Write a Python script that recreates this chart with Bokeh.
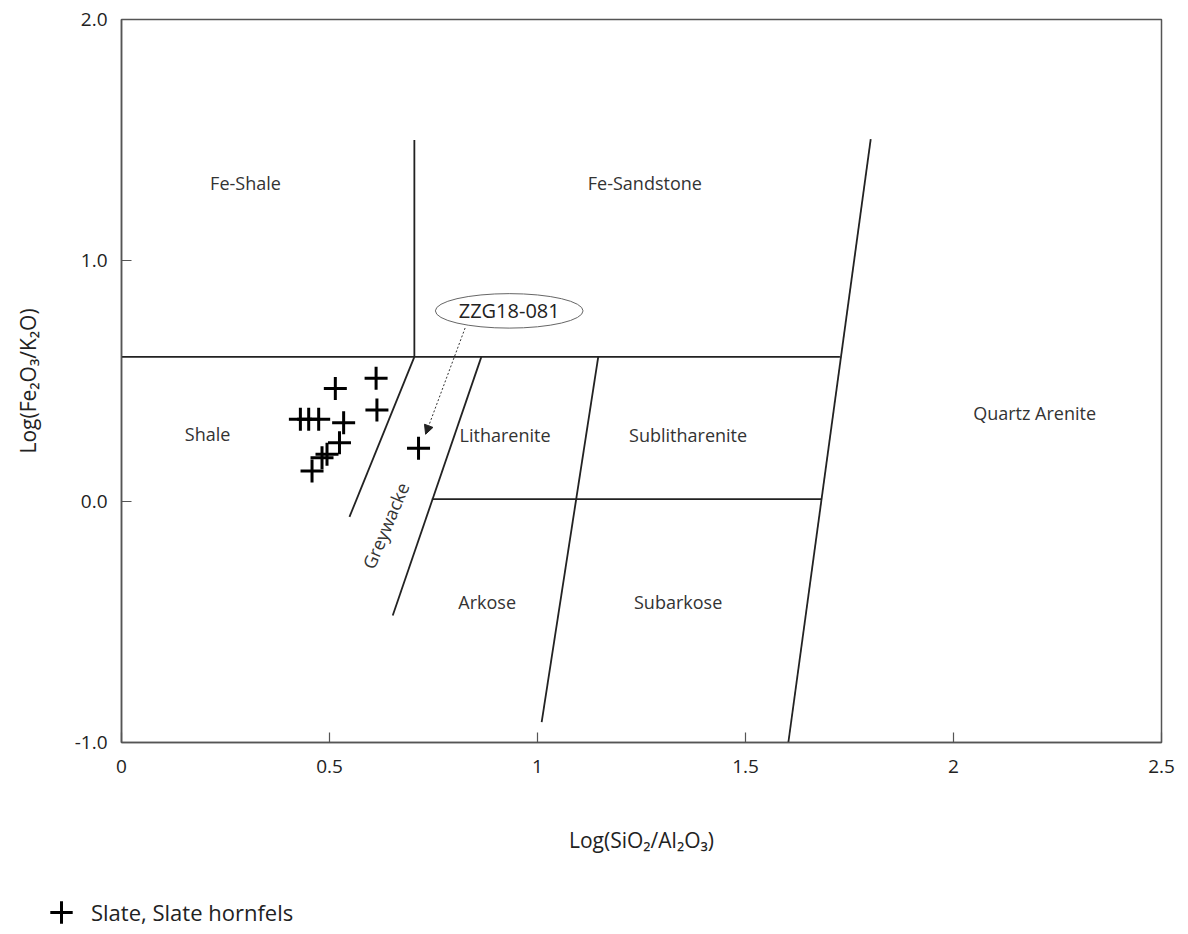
from bokeh.plotting import figure
from bokeh.models import Range1d, FixedTicker, Legend, LegendItem, Arrow, NormalHead
from bokeh.core.properties import value
from bokeh.embed import file_html
from bokeh.resources import INLINE

# ---- data ----
slate_x = [0.514, 0.612, 0.614, 0.430, 0.450, 0.474, 0.534, 0.524, 0.482, 0.494, 0.458, 0.714]
slate_y = [0.469, 0.511, 0.380, 0.341, 0.341, 0.341, 0.327, 0.244, 0.182, 0.196, 0.127, 0.221]
series_name = "Slate, Slate hornfels"

x_ticks = [0, 0.5, 1, 1.5, 2, 2.5]
x_tick_labels = ["0", "0.5", "1", "1.5", "2", "2.5"]
y_ticks = [-1, 0, 1, 2]
y_tick_labels = ["-1.0", "0.0", "1.0", "2.0"]

boundary_x0 = [0.0, 0.704, 1.603, 0.746, 1.010, 0.548, 0.652]
boundary_y0 = [0.6, 0.6, -1.0, 0.01, -0.915, -0.064, -0.473]
boundary_x1 = [1.727, 0.704, 1.801, 1.682, 1.146, 0.704, 0.865]
boundary_y1 = [0.6, 1.5, 1.504, 0.01, 0.6, 0.6, 0.6]

field_names = ["Fe-Shale", "Fe-Sandstone", "Shale", "Litharenite",
               "Sublitharenite", "Quartz Arenite", "Arkose", "Subarkose"]
field_x = [0.298, 1.258, 0.207, 0.922, 1.362, 2.195, 0.879, 1.338]
field_y = [1.32, 1.32, 0.28, 0.277, 0.277, 0.369, -0.418, -0.418]

greywacke_label = ["Greywacke"]
greywacke_x = [0.635]
greywacke_y = [-0.10]

sample_label = ["ZZG18-081"]
sample_label_x = [0.932]
sample_label_y = [0.791]
arrow_start = (0.826, 0.72)
arrow_end = (0.731, 0.279)

FONT = "Open Sans"

p = figure(width=1180, height=860, output_backend="svg", toolbar_location=None,
           x_range=Range1d(0, 2.5), y_range=Range1d(-1, 2),
           min_border_left=121, min_border_right=19, min_border_top=19,
           min_border_bottom=118)
p.grid.visible = False
p.outline_line_color = "#555555"
p.outline_line_width = 1.5
p.background_fill_color = "white"
p.border_fill_color = "white"

for ax in (p.xaxis[0], p.yaxis[0]):
    ax.axis_line_color = "#555555"
    ax.axis_line_width = 1.5
    ax.major_tick_line_color = "#555555"
    ax.major_tick_line_width = 1.2
    ax.major_tick_in = 10
    ax.major_tick_out = 0
    ax.minor_tick_line_color = None
    ax.major_label_text_font = FONT
    ax.major_label_text_font_size = "19px"
    ax.major_label_text_color = "#222222"
    ax.axis_label_text_font = FONT
    ax.axis_label_text_font_size = "21px"
    ax.axis_label_text_font_style = "normal"
    ax.axis_label_text_color = "#222222"

p.xaxis.ticker = FixedTicker(ticks=x_ticks)
p.xaxis.major_label_overrides = dict(zip(x_ticks, x_tick_labels))
p.xaxis.major_label_standoff = 17
p.xaxis.axis_label = "Log(SiO\u2082/Al\u2082O\u2083)"
p.xaxis.axis_label_standoff = 50

p.yaxis.ticker = FixedTicker(ticks=y_ticks)
p.yaxis.major_label_overrides = dict(zip(y_ticks, y_tick_labels))
p.yaxis.major_label_standoff = 14
p.yaxis.axis_label = "Log(Fe\u2082O\u2083/K\u2082O)"
p.yaxis.axis_label_standoff = 30

# boundary lines
p.segment(x0=boundary_x0, y0=boundary_y0, x1=boundary_x1, y1=boundary_y1,
          line_color="#222222", line_width=1.8)

# field labels
p.text(x=field_x, y=field_y, text=field_names, text_font=value(FONT),
       text_font_size="18px", text_color="#333333",
       text_align="center", text_baseline="middle")
p.text(x=greywacke_x, y=greywacke_y, text=greywacke_label, text_font=value(FONT),
       text_font_size="18px", text_color="#333333", angle=1.17,
       text_align="center", text_baseline="middle")

# sample callout
p.ellipse(x=sample_label_x, y=sample_label_y, width=0.355, height=0.143,
          fill_color="white", line_color="#666666", line_width=1)
p.text(x=sample_label_x, y=sample_label_y, text=sample_label, text_font=value(FONT),
       text_font_size="20px", text_color="#222222",
       text_align="center", text_baseline="middle")
p.add_layout(Arrow(x_start=arrow_start[0], y_start=arrow_start[1],
                   x_end=arrow_end[0], y_end=arrow_end[1],
                   line_color="#333333", line_width=1, line_dash="2 2",
                   end=NormalHead(size=9, fill_color="#222222", line_color="#222222",
                                  line_width=1)))

# samples
p.scatter(x=slate_x, y=slate_y, marker="cross", size=23,
          line_color="black", line_width=3)

# legend strip below the diagram (separate root, no axes, frame fills the strip)
pl = figure(width=1180, height=70, output_backend="svg", toolbar_location=None,
            x_range=Range1d(0, 1), y_range=Range1d(0, 1), min_border=0,
            x_axis_location=None, y_axis_location=None)
pl.grid.visible = False
pl.outline_line_color = None
pl.background_fill_color = "white"
pl.border_fill_color = "white"
rl = pl.scatter(x=slate_x, y=slate_y, marker="cross", size=23,
                line_color="black", line_width=3, visible=False)
legend = Legend(items=[LegendItem(label=series_name, renderers=[rl])],
                location=(31, -10), orientation="horizontal",
                padding=0, margin=0, spacing=0,
                glyph_width=60, glyph_height=56, label_standoff=-8,
                label_text_font=FONT, label_text_font_size="22px",
                label_text_color="#222222",
                border_line_alpha=0, background_fill_alpha=0)
pl.add_layout(legend)

open("out.html", "w").write(file_html([p, pl], INLINE))
